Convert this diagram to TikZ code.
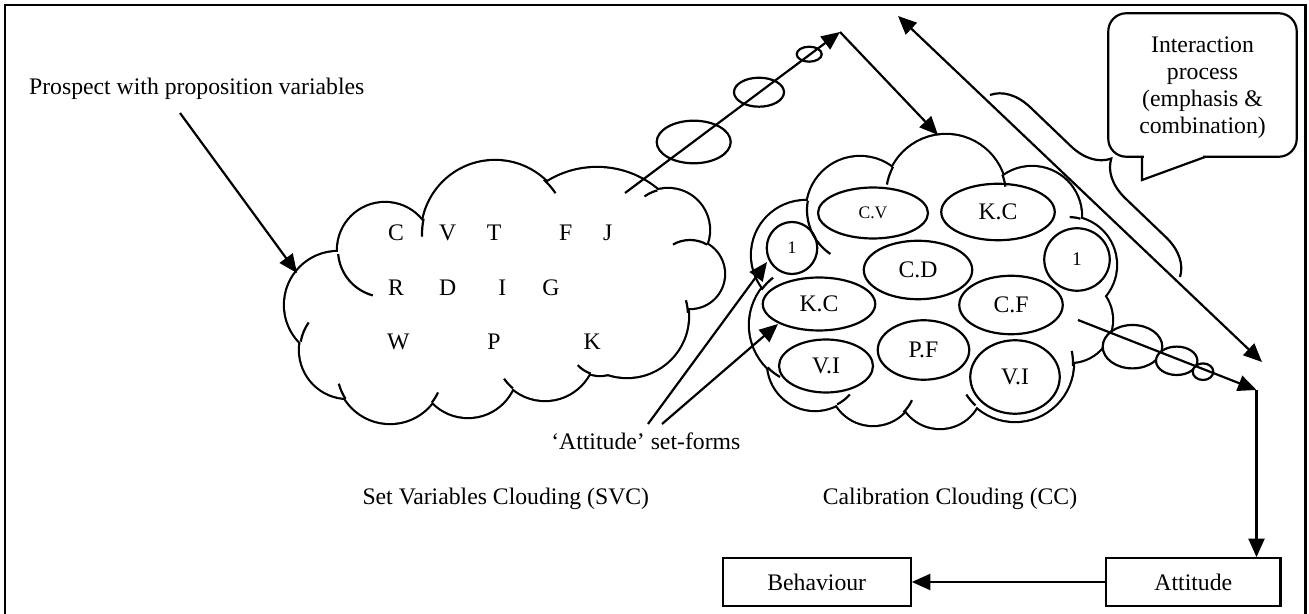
\documentclass[tikz,border=0pt]{standalone}
\usepackage{fontspec}
\setmainfont{Liberation Serif}
\usetikzlibrary{arrows.meta}
\usetikzlibrary{shapes.geometric}
\usetikzlibrary{decorations.pathreplacing}
\usetikzlibrary{positioning}

\tikzstyle{txt}=[font=\fontsize{13.5}{15.3}\selectfont,inner sep=0pt]
\tikzstyle{smalltxt}=[font=\fontsize{10}{12}\selectfont,inner sep=0pt]
\tikzstyle{link}=[line width=1.25pt,-{Triangle[length=0.37cm,width=0.32cm]}]
\tikzset{
  box/.style={draw,line width=1.3pt,minimum height=0.95cm,inner sep=0pt,
    font=\fontsize{13.5}{15.3}\selectfont},
  blob/.style 2 args={ellipse,draw,line width=1.25pt,minimum width=#1,
    minimum height=#2,inner sep=0pt,font=\fontsize{13.5}{15.3}\selectfont},
  bubble/.style={draw,fill=white,line width=1.25pt}
}
% union of puffs: thick outline, then white fill hides the inner half
\newcommand*{\puffcloud}[2]{
    \foreach \cx/\cy/\r in {#1} \draw[line width=2.5pt] (\cx,\cy) circle[radius=\r];
    \foreach \cx/\cy/\r in {#1} \fill[white] (\cx,\cy) circle[radius=\r];
    \fill[white] #2;
}
% little arcs that run on into the cloud
\newcommand*{\puffstubs}[1]{
    \foreach \cx/\cy/\r/\a/\b in {#1}
      \draw[line width=1.25pt] ([shift={(\a:\r)}]\cx,\cy) arc[start angle=\a,end angle=\b,radius=\r];
}

\begin{document}
\begin{tikzpicture}[x=0.02cm,y=-0.02cm,line width=1.25pt]
    \useasboundingbox (0,0) rectangle (1309,614);
    \draw[line width=1.4pt] (5,640) -- (5,5) -- (1305.5,5) -- (1305.5,640);

    % Set Variables Clouding
    \puffcloud{385/250/47, 495/234/73, 597/262/94, 668/230/41, 690/274/34, 627/316/61,
      600/345/30, 545/350/50, 468/368/49, 390/370/53, 348/350/48, 338/305/53}
      {(500,300) ellipse[x radius=170,y radius=80]}
    \puffstubs{385/250/47/175/105, 495/234/73/192/178, 495/234/73/-48/-34,
      668/230/41/-105/-125, 690/274/34/-60/-120, 627/316/61/-3/-15,
      600/345/30/108/138, 545/350/50/130/145, 390/370/53/38/25,
      390/370/53/147/165, 348/350/48/190/215}
    \foreach \t/\x/\y in {C/396/240.7, V/447.7/240.7, T/494/240.7, F/565.7/240.7, J/607.7/240.7,
      R/396/295.7, D/447.7/295.7, I/502.3/295.7, G/551/295.7,
      W/398.3/350, P/494/350, K/592.3/350}
      \node[txt,anchor=base] (v\t) at (\x,\y) {\t};

    % Calibration Clouding
    \puffcloud{946/195/60, 1032/216/49, 1068/265/48, 1070/320/42, 1015/363/58,
      940/386/42, 873/382/43, 815/363/47, 810/325/60, 806/255/54, 860/210/53}
      {(935,290) ellipse[x radius=150,y radius=90]}
    \puffstubs{860/210/53/190/124, 946/195/60/208/190, 946/195/60/-20/-8,
      1068/265/48/-75/-88, 1015/363/58/3/-12, 1015/363/58/133/147,
      873/382/43/45/25, 815/363/47/62/42, 810/325/60/135/120, 810/325/60/216/232}
    \node[blob={2.2cm}{1.02cm},font=\fontsize{10}{12}\selectfont] (cv) at (873,213) {C.V};
    \node[blob={2.27cm}{1.13cm}] (kc1) at (998,212) {K.C};
    \node[blob={1.01cm}{1.04cm},font=\fontsize{10}{12}\selectfont] (one1) at (792,248) {1};
    \node[blob={2.17cm}{1.17cm}] (cd) at (918,270) {C.D};
    \node[blob={1.31cm}{1.25cm},font=\fontsize{11}{13}\selectfont] (one2) at (1077,259.5) {1};
    \node[blob={2.25cm}{1.06cm}] (kc2) at (819,304) {K.C};
    \node[blob={2.07cm}{1.17cm}] (cf) at (1011,305) {C.F};
    \node[blob={1.88cm}{1.06cm}] (vi1) at (826,366) {V.I};
    \node[blob={1.83cm}{1.19cm}] (pf) at (923.5,350) {P.F};
    \node[blob={1.79cm}{1.47cm}] (vi2) at (1015,377) {V.I};

    % thought bubbles out of SVC
    \draw (693.7,142) ellipse[x radius=37,y radius=21.3];
    \draw (759,92.2) ellipse[x radius=25,y radius=14.5];
    \draw (809.2,54.2) ellipse[x radius=12.5,y radius=7.5];
    \coordinate (svcout) at (625,193);
    \coordinate (peak) at (840,32);
    \coordinate (ccin) at (938,135);
    \draw[link] (svcout) -- (peak);
    \draw[link] (peak) -- (ccin);

    % thought bubbles out of CC
    \draw[bubble] (1132.5,346.7) ellipse[x radius=29.8,y radius=21.7];
    \draw[bubble] (1176.7,360.8) ellipse[x radius=20.7,y radius=14.2];
    \draw[bubble] (1203,371.7) ellipse[x radius=10.3,y radius=8.3];
    \coordinate (ccout) at (1078,320);
    \coordinate (turn) at (1256.5,390);
    \draw[link] (ccout) -- (turn);

    % interaction
    \coordinate (itop) at (898,16);
    \coordinate (ibot) at (1262,362);
    \draw[line width=1.25pt,{Triangle[length=0.37cm,width=0.32cm]}-{Triangle[length=0.37cm,width=0.32cm]}] (itop) -- (ibot);
    \coordinate (br1) at (990,95);
    \coordinate (br2) at (1180,277);
    \draw[decorate,decoration={brace,amplitude=0.76cm}] (br1) -- (br2);
    \node[draw,rounded corners=0.36cm,minimum width=3.77cm,minimum height=2.87cm] (callout) at (1202.5,85) {};
    \fill[white] (1143.5,152) rectangle (1203,161);
    \draw (1142,157) -- (1142,180) -- (1205,157);
    \node[txt,align=center] (interact) at (1202.5,88) {Interaction\\process\\(emphasis \&\\combination)};

    % texts
    \node[txt,anchor=base west] (prospect) at (28,95) {Prospect with proposition variables};
    \coordinate (pstart) at (180,113);
    \coordinate (svcin) at (297,273);
    \draw[link] (pstart) -- (svcin);

    \node[txt,anchor=base] (setforms) at (645.8,449.3) {‘Attitude’ set-forms};
    \coordinate (sf1) at (648,424);
    \coordinate (sf2) at (662,424);
    \coordinate (sftip1) at (767,262);
    \coordinate (sftip2) at (778,324);
    \draw[link] (sf1) -- (sftip1);
    \draw[link] (sf2) -- (sftip2);

    \node[txt,anchor=base] (svclabel) at (505.8,505) {Set Variables Clouding (SVC)};
    \node[txt,anchor=base] (cclabel) at (950,505) {Calibration Clouding (CC)};

    \node[box,minimum width=3.76cm] (behaviour) at (816.7,582) {Behaviour};
    \node[box,minimum width=3.49cm] (attitude) at (1193.3,582) {Attitude};
    \draw[link] (turn) -- (turn |- attitude.north);
    \draw[link] (attitude.west) -- (behaviour.east);
\end{tikzpicture}
\end{document}
